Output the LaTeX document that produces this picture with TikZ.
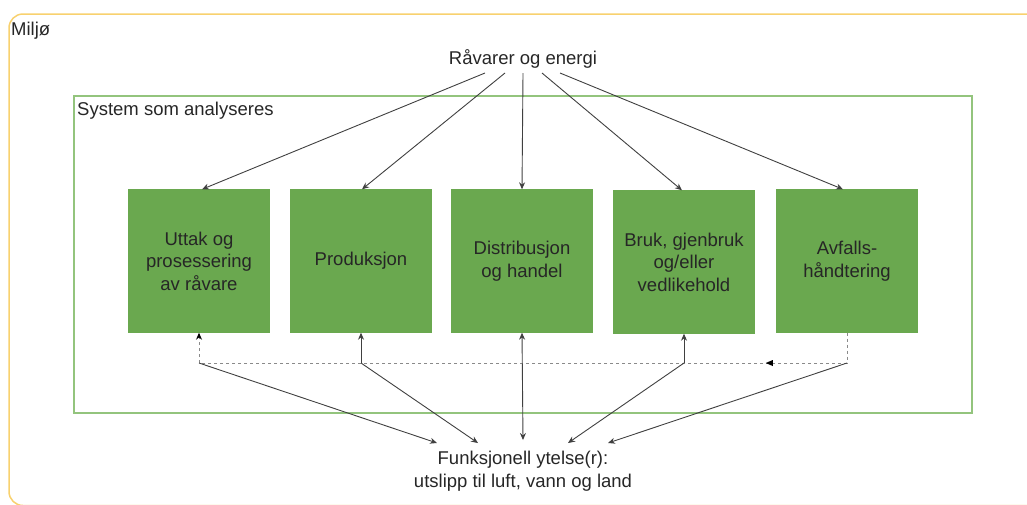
\documentclass[tikz,border=0pt]{standalone}
\usepackage{fontspec}
\setmainfont{Liberation Sans}
\usetikzlibrary{arrows.meta,decorations.markings}
\definecolor{boxgreen}{HTML}{6AA84F}
\definecolor{framegreen}{HTML}{93C47D}
\definecolor{frameyellow}{HTML}{F8D16E}
\definecolor{linegray}{HTML}{404040}
\definecolor{dashgray}{HTML}{8A8A8A}
\definecolor{txt}{HTML}{262626}
\tikzset{
  stagebox/.style={draw=boxgreen, fill=boxgreen, minimum width=141pt, minimum height=143pt,
    inner sep=0pt, align=center, text=txt, font=\fontsize{18.5}{22.5}\selectfont},
  lbl/.style={text=txt, font=\fontsize{18.5}{22.5}\selectfont, align=center, inner sep=0pt},
  arr/.style={draw=linegray, line width=0.9pt, -{Stealth[length=7pt,width=6pt]}},
  dsh/.style={draw=dashgray, line width=1pt, dash pattern=on 3pt off 3pt},
}
\begin{document}
\begin{tikzpicture}[x=1pt,y=-1pt]
\useasboundingbox (0,0) rectangle (1027,504);
\clip (0,0) rectangle (1027,504);
% frames
\draw[frameyellow, line width=1.5pt, rounded corners=14pt] (9,14) rectangle (1060,505.5);
\draw[framegreen, line width=1.5pt] (74,96) rectangle (972,413);
\node[lbl, anchor=west] (miljo) at (11,31) {Miljø};
\node[lbl, anchor=west] (sys) at (77,111) {System som analyseres};
% stages
\node[stagebox] (b1) at (199,261) {Uttak og\\prosessering\\av råvare};
\node[stagebox] (b2) at (361,261) {Produksjon};
\node[stagebox] (b3) at (522,261) {Distribusjon\\og handel};
\node[stagebox] (b4) at (684,262) {Bruk, gjenbruk\\og/eller\\vedlikehold};
\node[stagebox] (b5) at (847,261) {Avfalls-\\håndtering};
% top label
\node[lbl] (rv) at (523,59) {Råvarer og energi};
\coordinate (t1) at (485,73);
\coordinate (t2) at (505,73);
\coordinate (t3) at (523,73);
\coordinate (t4) at (542,73);
\coordinate (t5) at (560,73);
\draw[arr] (t1) -- ([xshift=3pt]b1.north);
\draw[arr] (t2) -- ([xshift=1pt]b2.north);
\draw[arr] (t3) -- (b3.north);
\draw[arr] (t4) -- ([xshift=-2pt]b4.north);
\draw[arr] (t5) -- ([xshift=-4pt]b5.north);
% bottom label
\node[lbl] (fy) at (523,471) {Funksjonell ytelse(r):\\utslipp til luft, vann og land};
\coordinate (j1) at (199,363);
\coordinate (j2) at (361,363);
\coordinate (j4) at (684,363);
\coordinate (j5) at (847,363);
\coordinate (f1) at (437,443);
\coordinate (f2) at (478,443);
\coordinate (f3) at (523,440);
\coordinate (f4) at (568,443);
\coordinate (f5) at (608,443);
% recycling dashed loop
\draw[dsh] (b5.south) -- (j5);
\draw[dsh, postaction={decorate}, decoration={markings, mark=at position 0.12 with {\fill[black] (3.5pt,0) -- (-3.5pt,3pt) -- (-3.5pt,-3pt) -- cycle;}}] (j5) -- (j1);
\draw[dsh, -{Stealth[length=7pt,width=6pt,color=black]}] (j1) -- (b1.south);
% vertical solid links
\draw[arr] (j2) -- (b2.south);
\draw[arr] (j4) -- (b4.south);
\draw[draw=linegray, line width=0.9pt, {Stealth[length=7pt,width=6pt]}-{Stealth[length=7pt,width=6pt]}] (b3.south) -- (f3);
% links to the bottom label
\draw[arr] (j1) -- (f1);
\draw[arr] (j2) -- (f2);
\draw[arr] (j4) -- (f4);
\draw[arr] (j5) -- (f5);
\end{tikzpicture}
\end{document}
